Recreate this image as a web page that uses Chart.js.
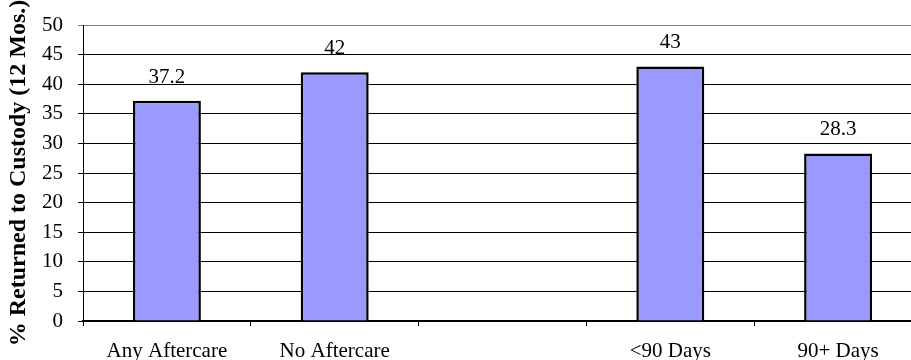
<!DOCTYPE html>
<html>
<head>
<meta charset="utf-8">
<script src="https://cdn.jsdelivr.net/npm/chart.js@4/dist/chart.umd.min.js"></script>
<style>
  html, body { margin: 0; padding: 0; background: #fff; overflow: hidden; }
  #wrap { position: relative; width: 930px; height: 360px; }
</style>
</head>
<body>
<div id="wrap"><canvas id="c"></canvas></div>
<script>
// Share of youth returned to custody within 12 months, by aftercare group
const categories = ['Any Aftercare', 'No Aftercare', '', '<90 Days', '90+ Days'];
const returnedPct = [37.2, 42, null, 43, 28.3];
const valueLabels = ['37.2', '42', '', '43', '28.3'];

const serif = '"Liberation Serif", "Times New Roman", serif';

// Writes each bar's value above it
const barValueLabels = {
  id: 'barValueLabels',
  afterDatasetsDraw(chart) {
    const ctx = chart.ctx;
    const meta = chart.getDatasetMeta(0);
    ctx.save();
    ctx.font = '21px ' + serif;
    ctx.fillStyle = '#000';
    ctx.textAlign = 'center';
    ctx.textBaseline = 'alphabetic';
    meta.data.forEach((bar, i) => {
      if (returnedPct[i] == null) return;
      ctx.fillText(valueLabels[i], bar.x, bar.y - 18);
    });
    ctx.restore();
  }
};

new Chart(document.getElementById('c'), {
  type: 'bar',
  data: {
    labels: categories,
    datasets: [{
      data: returnedPct,
      backgroundColor: '#9999FF',
      borderColor: '#000',
      borderWidth: 2.5,
      categoryPercentage: 1,
      barPercentage: 0.405
    }]
  },
  options: {
    responsive: true,
    maintainAspectRatio: false,
    animation: false,
    events: [],
    layout: { padding: { top: 25, right: 8, left: 0, bottom: 0 } },
    plugins: { legend: { display: false }, tooltip: { enabled: false } },
    scales: {
      x: {
        afterFit(scale) {
          scale.height = 39;
          scale.paddingLeft = 0;
          scale.paddingRight = 0;
        },
        grid: {
          offset: true,
          drawOnChartArea: false,
          drawTicks: true,
          tickLength: 5,
          color: '#000'
        },
        border: { display: true, color: '#000', width: 2 },
        ticks: {
          color: '#000',
          font: { family: serif, size: 21 },
          padding: 13,
          maxRotation: 0,
          autoSkip: false
        }
      },
      y: {
        min: 0,
        max: 50,
        afterFit(scale) {
          scale.width = 83;
          scale.paddingTop = 0;
          scale.paddingBottom = 0;
        },
        grid: {
          color: (c) => (c.tick && c.tick.value === 50 ? '#808080' : '#000'),
          lineWidth: 1,
          drawTicks: true,
          tickLength: 5
        },
        border: { display: true, color: '#000', width: 1 },
        ticks: {
          stepSize: 5,
          color: '#000',
          font: { family: serif, size: 21 },
          padding: 15
        },
        title: {
          display: true,
          text: '% Returned to Custody (12 Mos.)',
          color: '#000',
          font: { family: serif, size: 24, weight: 'bold' },
          padding: { top: 4, bottom: 0 }
        }
      }
    }
  },
  plugins: [barValueLabels]
});
</script>
</body>
</html>
